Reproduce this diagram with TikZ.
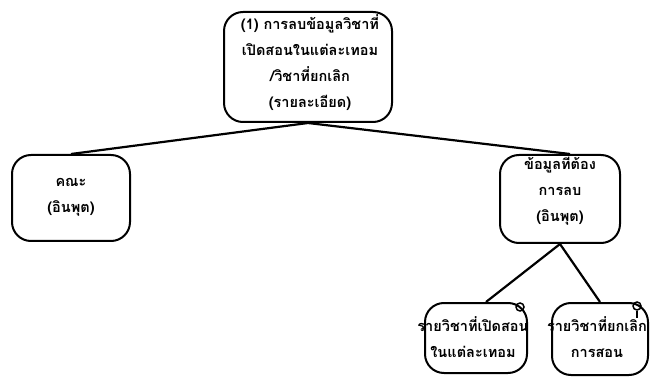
\documentclass[tikz,border=0pt]{standalone}
\usepackage{fontspec}
\newfontfamily\thai[Script=Thai]{Loma}
\usetikzlibrary{calc}
\tikzset{
  box/.style={draw, line width=2pt, rounded corners=19pt, inner sep=0pt},
  lbl/.style={align=center, font=\thai\bfseries\fontsize{14.5}{26}\selectfont, inner sep=0pt},
  link/.style={line width=2.2pt},
  pin/.style={line width=1.5pt}
}
\begin{document}
\begin{tikzpicture}[x=1pt,y=-1pt]
\useasboundingbox (0,0) rectangle (650,379);
\node[box, minimum width=168pt, minimum height=110pt] (top) at (308,67) {};
\node[lbl] (toptext) at (310,63) {(1) การลบข้อมูลวิชาที่\\เปิดสอนในแต่ละเทอม\\/วิชาที่ยกเลิก\\(รายละเอียด)};
\node[box, minimum width=118pt, minimum height=86pt] (left) at (71,198) {};
\node[lbl] (lefttext) at (71,197) {คณะ\\(อินพุต)};
\node[box, minimum width=120pt, minimum height=88pt] (right) at (560,199) {};
\node[lbl] (righttext) at (560,190) {ข้อมูลที่ต้อง\\การลบ\\(อินพุต)};
\node[box, minimum width=102pt, minimum height=70pt] (bl) at (476,338) {};
\node[lbl] (bltext) at (473,337) {รายวิชาที่เปิดสอน\\ในแต่ละเทอม};
\node[box, minimum width=96pt, minimum height=72pt] (br) at (600,339) {};
\node[lbl] (brtext) at (597,337) {รายวิชาที่ยกเลิก\\การสอน};
\draw[link] (top.south) -- (left.north);
\draw[link] (top.south) -- ([xshift=10pt]right.north);
\draw[link] (right.south) -- ([xshift=10pt]bl.north);
\draw[link] (right.south) -- (br.north);
\node[draw, pin, circle, minimum size=8pt, inner sep=0pt] (c1) at (520,307) {};
\node[draw, pin, circle, minimum size=8pt, inner sep=0pt] (c2) at (637,306) {};
\coordinate (c2b) at (637,318);
\draw[pin] (c2.south) -- (c2b);
\end{tikzpicture}
\end{document}
